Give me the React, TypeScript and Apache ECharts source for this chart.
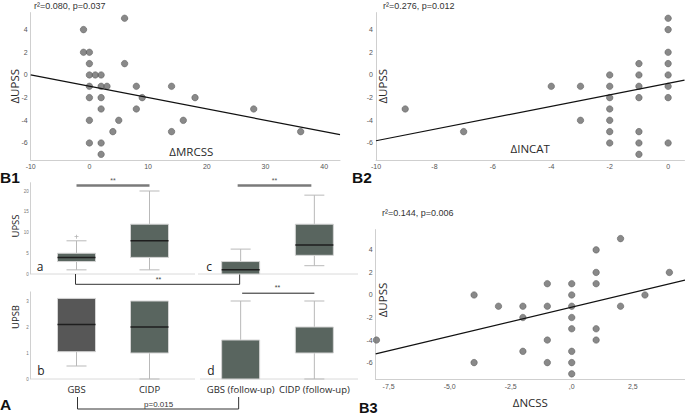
import React, { useEffect, useRef } from 'react';
import * as echarts from 'echarts';

// ---------- Panel B1 : ΔUPSS vs ΔMRCSS ----------
const b1Points: number[][] = [
  [-1, 4], [-1, 2], [0, 2], [6, 5], [0, 1], [6, 1], [0, 0], [1, 0], [2, 0],
  [0, -1], [2, -1], [3, -1], [8, -1], [14, -1], [0, -2], [2, -2], [9, -2], [18, -2],
  [2, -3], [8, -3], [28, -3], [0, -4], [5, -4], [16, -4], [4, -5], [14, -5], [36, -5],
  [0, -6], [2, -6], [2, -7],
];
const b1Fit: number[][] = [[-10, 0], [42.7, -5.26]];
const b1XTicks = [-10, 0, 10, 20, 30, 40];

// ---------- Panel B2 : ΔUPSS vs ΔINCAT ----------
const b2Points: number[][] = [
  [0, 5], [0, 4], [0, 2], [0, 1], [0, 0], [0, -1], [0, -2], [0, -6],
  [-1, 1], [-1, 0], [-1, -1], [-1, -2], [-1, -5], [-1, -6], [-1, -7],
  [-2, 0], [-2, -1], [-2, -2], [-2, -3], [-2, -4], [-2, -5], [-2, -6],
  [-3, -1], [-3, -4], [-4, -1], [-7, -5], [-9, -3],
];
const b2Fit: number[][] = [[-10, -5.8], [0.56, -0.45]];
const b2XTicks = [-10, -8, -6, -4, -2, 0];

// ---------- Panel B3 : ΔUPSS vs ΔNCSS ----------
const b3Points: number[][] = [
  [-8, -4], [-4, 0], [-4, -6], [-3, -1], [-2, -1], [-2, -2], [-2, -5],
  [-1, 1], [-1, -1], [-1, -4], [-1, -6],
  [0, 1], [0, 0], [0, -1], [0, -2], [0, -3], [0, -5], [0, -6], [0, -7],
  [1, 4], [1, 2], [1, 1], [1, -3], [1, -4], [2, 5], [2, -1], [3, 0], [4, 2],
];
const b3Fit: number[][] = [[-8.03, -5.22], [4.64, 1.32]];
const b3XTicks = [-7.5, -5, -2.5, 0, 2.5];

const scatterYTicks = [-6, -4, -2, 0, 2, 4];

// ---------- Panel A : box plots ----------
const groups = ['GBS', 'CIDP', 'GBS (follow-up)', 'CIDP (follow-up)'];
// [min, Q1, median, Q3, max]
const upssStats: number[][] = [
  [1, 3, 4, 5, 8],
  [1, 4, 8, 12, 20],
  [0, 0, 1, 3, 6],
  [2, 4.5, 7, 12, 19],
];
const upssOutliers: (string | number)[][] = [['GBS', 9]];
const upsbStats: number[][] = [
  [0.5, 1.05, 2.1, 3.1, 3.1],
  [0, 1, 2, 3, 3],
  [0, 0, 0, 1.5, 3],
  [0, 1, 1, 2, 3],
];
const upssTicks = [0, 5, 10, 15, 20];
const upsbTicks = [0, 1, 2, 3];
const upssColors = ['#59655f', '#59655f', '#59655f', '#59655f'];
const upsbColors = ['#575757', '#59655f', '#59655f', '#59655f'];

const TICK_FONT = 'Liberation Sans, Arial, sans-serif';
const NAME_FONT = 'Open Sans, Noto Sans, sans-serif';

function makeBoxRender(colors: string[], offset: number) {
  return (params: any, api: any) => {
    const idx = api.value(0);
    const mn = api.value(1);
    const q1 = api.value(2);
    const md = api.value(3);
    const q3 = api.value(4);
    const mx = api.value(5);
    const pMin = api.coord([idx, mn]);
    const pQ1 = api.coord([idx, q1]);
    const pMd = api.coord([idx, md]);
    const pQ3 = api.coord([idx, q3]);
    const pMax = api.coord([idx, mx]);
    const cx = pMin[0];
    const half = 19;
    const cap = 10;
    const wStyle = { stroke: '#b9b9b9', lineWidth: 1 };
    const children: any[] = [];
    if (mx > q3) {
      children.push({ type: 'line', shape: { x1: cx, y1: pMax[1], x2: cx, y2: pQ3[1] }, style: wStyle });
      children.push({ type: 'line', shape: { x1: cx - cap, y1: pMax[1], x2: cx + cap, y2: pMax[1] }, style: wStyle });
    }
    if (mn < q1) {
      children.push({ type: 'line', shape: { x1: cx, y1: pMin[1], x2: cx, y2: pQ1[1] }, style: wStyle });
      children.push({ type: 'line', shape: { x1: cx - cap, y1: pMin[1], x2: cx + cap, y2: pMin[1] }, style: wStyle });
    }
    children.push({
      type: 'rect',
      shape: { x: cx - half, y: pQ3[1], width: half * 2, height: pQ1[1] - pQ3[1] },
      style: { fill: colors[offset + params.dataIndex], stroke: '#d4d4d4', lineWidth: 1 },
    });
    if (md !== q1 && md !== q3) {
      children.push({
        type: 'line',
        shape: { x1: cx - half, y1: pMd[1], x2: cx + half, y2: pMd[1] },
        style: { stroke: '#1e1e1e', lineWidth: 1.5 },
      });
    }
    return { type: 'group', children };
  };
}

function boxData(stats: number[][], from: number, to: number) {
  return stats.slice(from, to).map((s, i) => [i, ...s]);
}

function scatterXAxis(grid: number, min: number, max: number, ticks: number[], name: string, gap: number, fmt?: (v: number) => string, pad?: number[]) {
  return {
    type: 'value', gridIndex: grid, min, max,
    axisLine: { show: true, onZero: false, lineStyle: { color: '#cfcfcf', width: 1 } },
    axisTick: { show: false },
    splitLine: { show: false },
    axisLabel: {
      customValues: ticks, fontSize: 7, color: '#555', fontFamily: TICK_FONT, margin: 3,
      formatter: fmt ? (v: number) => fmt(v) : (v: number) => String(v),
    },
    name, nameLocation: 'middle', nameGap: gap,
    nameTextStyle: { fontSize: 11.5, color: '#2a2a2a', fontFamily: NAME_FONT, padding: pad || 0 },
  };
}

function scatterYAxis(grid: number, max: number) {
  return {
    type: 'value', gridIndex: grid, min: -7.5, max,
    axisLine: { show: true, onZero: false, lineStyle: { color: '#cfcfcf', width: 1 } },
    axisTick: { show: false },
    splitLine: { show: false },
    axisLabel: { customValues: scatterYTicks, fontSize: 7, color: '#555', fontFamily: TICK_FONT, margin: 3 },
  };
}

const scatterStyle = { color: '#6c6c6c', borderColor: '#505050', borderWidth: 0.6 };
const fitStyle = { color: '#111', width: 1.2 };

export default function App() {
  const ref = useRef<HTMLDivElement>(null);
  useEffect(() => {
    if (!ref.current) return;
    const chart = echarts.init(ref.current, null, { renderer: 'svg' });
    const b3Fmt = (v: number) => (v === 0 ? ',0' : v.toFixed(1).replace('.', ','));

    const option: any = {
      animation: false,
      backgroundColor: '#ffffff',
      grid: [
        { left: 30.7, top: 12.6, width: 309.3, height: 147.4 },
        { left: 376, top: 12.6, width: 308.5, height: 147.4 },
        { left: 375.7, top: 229.6, width: 309.3, height: 149.9 },
        { left: 40, top: 182.7, width: 146, height: 91.3 },
        { left: 203.8, top: 182.7, width: 147.4, height: 91.3 },
        { left: 40, top: 291.9, width: 146, height: 87.1 },
        { left: 203.8, top: 291.9, width: 147.4, height: 87.1 },
      ],
      xAxis: [
        scatterXAxis(0, -10, 42.7, b1XTicks, 'ΔMRCSS', -14.5, undefined, [0, 0, 0, 12]),
        scatterXAxis(1, -10, 0.56, b2XTicks, 'ΔINCAT', -17.5),
        scatterXAxis(2, -8.03, 4.64, b3XTicks, 'ΔNCSS', 16.5, b3Fmt),
        { type: 'category', gridIndex: 3, data: groups.slice(0, 2), axisLine: { show: false }, axisTick: { show: false }, axisLabel: { show: false } },
        { type: 'category', gridIndex: 4, data: groups.slice(2, 4), axisLine: { show: false }, axisTick: { show: false }, axisLabel: { show: false } },
        { type: 'category', gridIndex: 5, data: groups.slice(0, 2), axisLine: { show: false }, axisTick: { show: false },
          axisLabel: { interval: 0, fontSize: 9.5, color: '#2a2a2a', fontFamily: NAME_FONT, margin: 5 } },
        { type: 'category', gridIndex: 6, data: groups.slice(2, 4), axisLine: { show: false }, axisTick: { show: false },
          axisLabel: { interval: 0, fontSize: 9.5, color: '#2a2a2a', fontFamily: NAME_FONT, margin: 5 } },
      ],
      yAxis: [
        scatterYAxis(0, 5.5),
        scatterYAxis(1, 5.5),
        scatterYAxis(2, 5.8),
        { type: 'value', gridIndex: 3, min: 0, max: 22, offset: 9.3,
          axisLine: { show: true, lineStyle: { color: '#d0d0d0' } }, axisTick: { show: false }, splitLine: { show: false },
          axisLabel: { customValues: upssTicks, fontSize: 4.5, color: '#777', fontFamily: TICK_FONT, margin: 2 } },
        { type: 'value', gridIndex: 4, min: 0, max: 22, show: false },
        { type: 'value', gridIndex: 5, min: 0, max: 3.35, offset: 9.3,
          axisLine: { show: true, lineStyle: { color: '#d0d0d0' } }, axisTick: { show: false }, splitLine: { show: false },
          axisLabel: { customValues: upsbTicks, fontSize: 4.5, color: '#777', fontFamily: TICK_FONT, margin: 2 } },
        { type: 'value', gridIndex: 6, min: 0, max: 3.35, show: false },
      ],
      series: [
        { type: 'scatter', xAxisIndex: 0, yAxisIndex: 0, data: b1Points, symbolSize: 6.5, itemStyle: scatterStyle },
        { type: 'line', xAxisIndex: 0, yAxisIndex: 0, data: b1Fit, showSymbol: false, lineStyle: fitStyle },
        { type: 'scatter', xAxisIndex: 1, yAxisIndex: 1, data: b2Points, symbolSize: 6.5, itemStyle: scatterStyle },
        { type: 'line', xAxisIndex: 1, yAxisIndex: 1, data: b2Fit, showSymbol: false, lineStyle: fitStyle },
        { type: 'scatter', xAxisIndex: 2, yAxisIndex: 2, data: b3Points, symbolSize: 6.5, itemStyle: scatterStyle },
        { type: 'line', xAxisIndex: 2, yAxisIndex: 2, data: b3Fit, showSymbol: false, lineStyle: fitStyle },
        { type: 'custom', xAxisIndex: 3, yAxisIndex: 3, data: boxData(upssStats, 0, 2), encode: { x: 0, y: [1, 2, 3, 4, 5] }, renderItem: makeBoxRender(upssColors, 0) },
        { type: 'custom', xAxisIndex: 4, yAxisIndex: 4, data: boxData(upssStats, 2, 4), encode: { x: 0, y: [1, 2, 3, 4, 5] }, renderItem: makeBoxRender(upssColors, 2) },
        { type: 'custom', xAxisIndex: 5, yAxisIndex: 5, data: boxData(upsbStats, 0, 2), encode: { x: 0, y: [1, 2, 3, 4, 5] }, renderItem: makeBoxRender(upsbColors, 0) },
        { type: 'custom', xAxisIndex: 6, yAxisIndex: 6, data: boxData(upsbStats, 2, 4), encode: { x: 0, y: [1, 2, 3, 4, 5] }, renderItem: makeBoxRender(upsbColors, 2) },
        { type: 'scatter', xAxisIndex: 3, yAxisIndex: 3, data: upssOutliers, symbol: 'path://M2,0h1v2h2v1h-2v2h-1v-2h-2v-1h2z', symbolSize: 4, itemStyle: { color: '#a0a0a0' } },
      ],
    };
    chart.setOption(option);

    const px = (ax: number, c: string) => chart.convertToPixel({ xAxisIndex: ax } as any, c) as unknown as number;
    const py = (ax: number, v: number) => chart.convertToPixel({ yAxisIndex: ax } as any, v) as unknown as number;

    const gbs = px(3, groups[0]);
    const cidp = px(3, groups[1]);
    const gbsF = px(4, groups[2]);
    const cidpF = px(4, groups[3]);
    const gbsB = px(5, groups[0]);
    const gbsFB = px(6, groups[2]);
    const cidpFB = px(6, groups[3]);
    const topBase = py(3, 0);
    const botBase = py(5, 0);
    const sigTop = py(3, 21.3);
    const sigBot = py(6, 3.3);
    const b1Mid = (py(0, -7.5) + py(0, 5.5)) / 2;
    const b2Mid = (py(1, -7.5) + py(1, 5.5)) / 2;
    const b3Mid = (py(2, -7.5) + py(2, 5.8)) / 2 - 4.5;

    const dark = { stroke: '#333', lineWidth: 1 };
    const txt = (x: number, y: number, text: string, size: number, extra: any = {}) => ({
      type: 'text', x, y, silent: true,
      style: { text, fontSize: size, fontFamily: extra.family || TICK_FONT, fontWeight: extra.weight || 'normal',
        fill: extra.fill || '#333', align: extra.align || 'center', verticalAlign: extra.va || 'middle' },
      rotation: extra.rotation || 0,
    });
    const ln = (x1: number, y1: number, x2: number, y2: number, style: any) => ({ type: 'line', silent: true, shape: { x1, y1, x2, y2 }, style });

    const graphic: any[] = [
      // baselines of the box plot panels
      ln(30.7, topBase, 195, topBase, { stroke: '#dadada', lineWidth: 1 }),
      ln(198, topBase, 358, topBase, { stroke: '#dadada', lineWidth: 1 }),
      ln(30.7, botBase, 195, botBase, { stroke: '#dadada', lineWidth: 1 }),
      ln(200, botBase, 358, botBase, { stroke: '#dadada', lineWidth: 1 }),
      // significance bars (top)
      ln(gbs, sigTop, cidp, sigTop, { stroke: '#7a7a7a', lineWidth: 2.5 }),
      txt((gbs + cidp) / 2, sigTop - 5.5, '**', 7, { fill: '#555' }),
      ln(gbsF - 3, sigTop, cidpF - 3, sigTop, { stroke: '#7a7a7a', lineWidth: 2.5 }),
      txt((gbsF + cidpF) / 2 - 3, sigTop - 5.5, '**', 7, { fill: '#555' }),
      // bracket a - c
      ln(gbs - 1, topBase, gbs - 1, topBase + 10.3, dark),
      ln(gbs - 1, topBase + 10.3, gbsF - 1, topBase + 10.3, dark),
      ln(gbsF - 1, topBase, gbsF - 1, topBase + 10.3, dark),
      txt((gbs + gbsF) / 2, topBase + 5.5, '**', 7, { fill: '#444' }),
      // bottom right bar
      ln(gbsFB + 1.5, sigBot, cidpFB, sigBot, { stroke: '#222', lineWidth: 1 }),
      txt((gbsFB + cidpFB) / 2, sigBot - 5.5, '**', 7, { fill: '#444' }),
      // bottom bracket b - d
      ln(gbsB + 1, botBase + 18, gbsB + 1, botBase + 30, dark),
      ln(gbsB + 1, botBase + 30, gbsFB - 2, botBase + 30, dark),
      ln(gbsFB - 2, botBase + 18, gbsFB - 2, botBase + 30, dark),
      txt((gbsB + gbsFB) / 2, botBase + 25, 'p=0.015', 8, { fill: '#333' }),
      // sub-panel letters
      txt(40, topBase - 7.5, 'a', 12, { family: NAME_FONT, fill: '#222' }),
      txt(209, topBase - 7.5, 'c', 12, { family: NAME_FONT, fill: '#222' }),
      txt(41, botBase - 9, 'b', 12, { family: NAME_FONT, fill: '#222' }),
      txt(211, botBase - 9, 'd', 12, { family: NAME_FONT, fill: '#222' }),
      // box plot y labels
      txt(15, 226, 'UPSS', 9.5, { family: NAME_FONT, fill: '#222', rotation: Math.PI / 2 }),
      txt(15, 317, 'UPSB', 9.5, { family: NAME_FONT, fill: '#222', rotation: Math.PI / 2 }),
      // y-axis titles of panels B1, B2, B3
      txt(14, b1Mid, 'ΔUPSS', 11.5, { family: NAME_FONT, fill: '#2a2a2a', rotation: Math.PI / 2 }),
      txt(382.5, b2Mid, 'ΔUPSS', 11.5, { family: NAME_FONT, fill: '#2a2a2a', rotation: Math.PI / 2 }),
      txt(382.5, b3Mid, 'ΔUPSS', 11.5, { family: NAME_FONT, fill: '#2a2a2a', rotation: Math.PI / 2 }),
      // statistics
      txt(34, 5.5, 'r²=0.080, p=0.037', 9, { align: 'left', fill: '#333' }),
      txt(383, 5.5, 'r²=0.276, p=0.012', 9, { align: 'left', fill: '#333' }),
      txt(382, 212.5, 'r²=0.144, p=0.006', 9, { align: 'left', fill: '#333' }),
      // panel labels
      txt(0, 177, 'B1', 15.5, { align: 'left', weight: 'bold', fill: '#111', family: 'Liberation Sans, Arial, sans-serif' }),
      txt(352, 177, 'B2', 15.5, { align: 'left', weight: 'bold', fill: '#111', family: 'Liberation Sans, Arial, sans-serif' }),
      txt(359, 407.5, 'B3', 14.5, { align: 'left', weight: 'bold', fill: '#111', family: 'Liberation Sans, Arial, sans-serif' }),
      txt(0, 404, 'A', 15.5, { align: 'left', weight: 'bold', fill: '#111', family: 'Liberation Sans, Arial, sans-serif' }),
    ];
    chart.setOption({ graphic });

    return () => chart.dispose();
  }, []);
  return <div ref={ref} style={{ position: 'absolute', left: 0, top: 0, width: 685, height: 415 }} />;
}
